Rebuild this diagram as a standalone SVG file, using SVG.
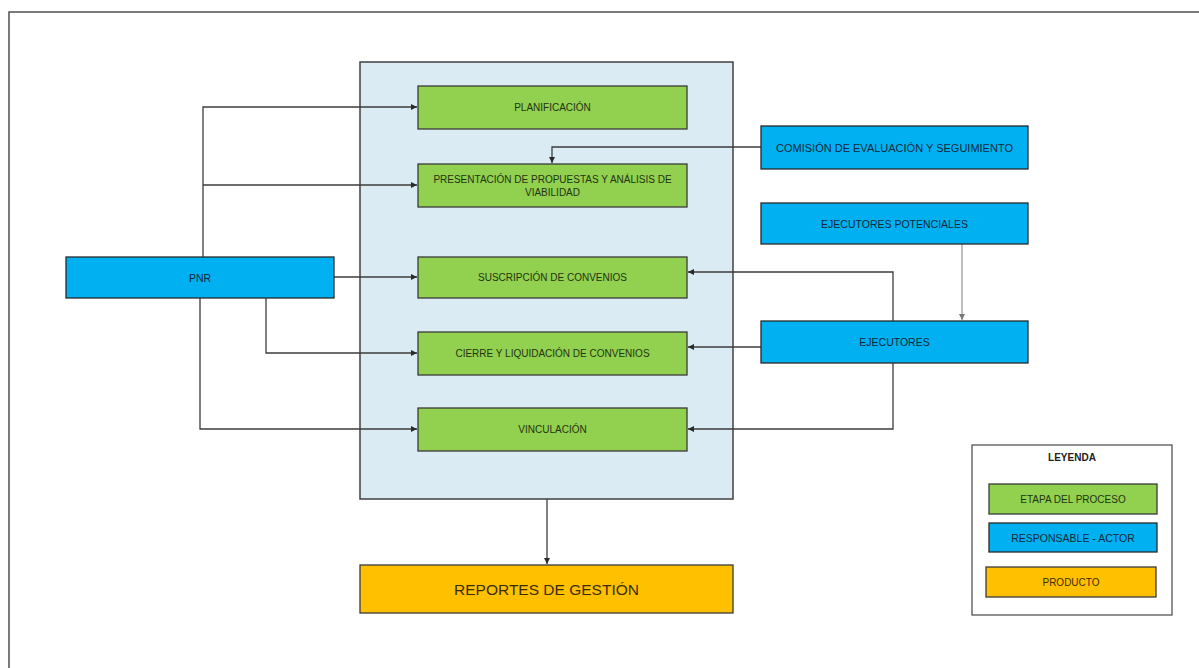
<svg xmlns="http://www.w3.org/2000/svg" width="1199" height="668" viewBox="0 0 1199 668">
<defs>
<style>
.frame{fill:#fff;stroke:#505050;stroke-width:1.5}
.cont{fill:#DBEBF3;stroke:#404040;stroke-width:1.5}
.g{fill:#92D050;stroke:#3a3a3a;stroke-width:1.3}
.b{fill:#00B0F0;stroke:#2a2a2a;stroke-width:1.3}
.o{fill:#FFC000;stroke:#3a3a3a;stroke-width:1.3}
.leg{fill:#fff;stroke:#555;stroke-width:1.3}
text{font-family:"Liberation Sans",Arial,sans-serif;text-anchor:middle;dominant-baseline:central}
.tg{font-size:10px;fill:#22340f}
.tb{font-size:10.5px;fill:#13283a}
.tb2{font-size:11px;fill:#13283a}
.to{font-size:15.5px;fill:#3b2c00}
.tp{font-size:10px;fill:#3b2c00}
.tl{font-size:10px;fill:#222;font-weight:bold}
.c{fill:none;stroke:#3c3c3c;stroke-width:1.3}
.c2{fill:none;stroke:#8a8a80;stroke-width:1.1}
</style>
<marker id="ah" viewBox="0 0 10 10" refX="10" refY="5" markerWidth="6" markerHeight="6" orient="auto" markerUnits="userSpaceOnUse"><path d="M0,0 L10,5 L0,10 z" fill="#2a2a2a"/></marker>
<marker id="ah2" viewBox="0 0 10 10" refX="10" refY="5" markerWidth="6" markerHeight="6" orient="auto" markerUnits="userSpaceOnUse"><path d="M0,0 L10,5 L0,10 z" fill="#777"/></marker>
</defs>
<rect x="0" y="0" width="1199" height="668" fill="#fff"/>
<rect class="frame" x="9" y="12" width="1200" height="670"/>
<g id="container"><rect class="cont" x="360" y="62" width="373" height="437"/></g>
<g id="connectors">
<path class="c" d="M203,257 V107 H417" marker-end="url(#ah)"/>
<path class="c" d="M203,185 H417" marker-end="url(#ah)"/>
<path class="c" d="M334,277 H417" marker-end="url(#ah)"/>
<path class="c" d="M266,298 V353 H417" marker-end="url(#ah)"/>
<path class="c" d="M200,298 V429 H417" marker-end="url(#ah)"/>
<path class="c" d="M761,147 H552 V163" marker-end="url(#ah)"/>
<path class="c2" d="M962,244 V320" marker-end="url(#ah2)"/>
<path class="c" d="M893,321 V272 H688" marker-end="url(#ah)"/>
<path class="c" d="M761,347 H688" marker-end="url(#ah)"/>
<path class="c" d="M893,363 V429 H688" marker-end="url(#ah)"/>
<path class="c" d="M547,499 V564" marker-end="url(#ah)"/>
</g>
<g id="planificacion"><rect class="g" x="418" y="86" width="269" height="43"/><text class="tg" x="552.5" y="107.5">PLANIFICACIÓN</text></g>
<g id="presentacion"><rect class="g" x="418" y="164" width="269" height="43"/><text class="tg" x="552.5" y="179.5">PRESENTACIÓN DE PROPUESTAS Y ANÁLISIS DE</text><text class="tg" x="552.5" y="192.5">VIABILIDAD</text></g>
<g id="suscripcion"><rect class="g" x="418" y="257" width="269" height="41"/><text class="tg" x="552.5" y="277.5">SUSCRIPCIÓN DE CONVENIOS</text></g>
<g id="cierre"><rect class="g" x="418" y="332" width="269" height="43"/><text class="tg" x="552.5" y="353.5">CIERRE Y LIQUIDACIÓN DE CONVENIOS</text></g>
<g id="vinculacion"><rect class="g" x="418" y="408" width="269" height="43"/><text class="tg" x="552.5" y="429.5">VINCULACIÓN</text></g>
<g id="pnr"><rect class="b" x="66" y="257" width="268" height="41"/><text class="tb" x="200" y="277.5">PNR</text></g>
<g id="comision"><rect class="b" x="761" y="126" width="267" height="43"/><text class="tb2" x="894.5" y="147.5">COMISIÓN DE EVALUACIÓN Y SEGUIMIENTO</text></g>
<g id="potenciales"><rect class="b" x="761" y="203" width="267" height="41"/><text class="tb" x="894.5" y="223.5">EJECUTORES POTENCIALES</text></g>
<g id="ejecutores"><rect class="b" x="761" y="321" width="267" height="42"/><text class="tb" x="894.5" y="341.5">EJECUTORES</text></g>
<g id="reportes"><rect class="o" x="360" y="565" width="373" height="48"/><text class="to" x="546.5" y="589">REPORTES DE GESTIÓN</text></g>
<g id="leyenda">
<rect class="leg" x="972" y="445" width="200" height="170"/>
<text class="tl" x="1072" y="457">LEYENDA</text>
<rect class="g" x="989" y="484" width="168" height="30"/><text class="tg" x="1073" y="499">ETAPA DEL PROCESO</text>
<rect class="b" x="989" y="523" width="168" height="29"/><text class="tb" x="1073" y="537.5">RESPONSABLE - ACTOR</text>
<rect class="o" x="986" y="567" width="170" height="30"/><text class="tp" x="1071" y="582">PRODUCTO</text>
</g>
</svg>
